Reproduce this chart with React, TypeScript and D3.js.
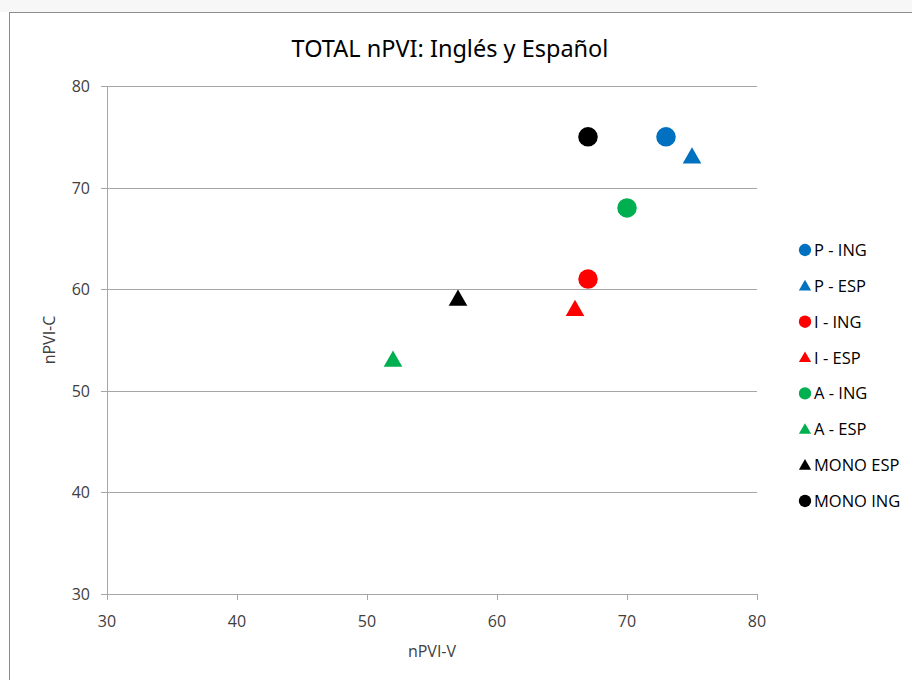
import React from "react";
import * as d3 from "d3";

const seriesNames = ["P - ING", "P - ESP", "I - ING", "I - ESP", "A - ING", "A - ESP", "MONO ESP", "MONO ING"];
const seriesX = [73, 75, 67, 66, 70, 52, 57, 67];
const seriesY = [75, 73, 61, 58, 68, 53, 59, 75];
const seriesShape = ["circle", "triangle", "circle", "triangle", "circle", "triangle", "triangle", "circle"];
const seriesColor = ["#0070c0", "#0070c0", "#ff0000", "#ff0000", "#00b050", "#00b050", "#000000", "#000000"];
const xTicks = [30, 40, 50, 60, 70, 80];
const yTicks = [30, 40, 50, 60, 70, 80];

const W = 912;
const H = 680;
const FONT = "'Open Sans', 'Noto Sans', sans-serif";

export default function App() {
  const x = d3.scaleLinear().domain([30, 80]).range([107, 757]);
  const y = d3.scaleLinear().domain([30, 80]).range([594, 86]);
  const circle = d3.symbol().type(d3.symbolCircle);
  const tri = d3.symbol().type(d3.symbolTriangle);
  const markerPath = (shape: string, big: boolean) =>
    shape === "circle" ? circle.size(big ? 300 : 120)() : tri.size(big ? 150 : 65)();

  return (
    <svg
      width={W}
      height={H}
      style={{ position: "absolute", left: 0, top: 0, background: "#fff" }}
    >
      <rect x={0} y={0} width={W} height={12} fill="#f7f7f7" />
      <rect x={9.5} y={12.5} width={W + 20} height={H + 20} fill="#fff" stroke="#8c8c8c" strokeWidth={1} />
      <text x={450} y={57} textAnchor="middle" fontFamily="'Liberation Sans Narrow', 'Noto Sans', sans-serif" fontSize={23.5} fill="#000">
        TOTAL nPVI: Inglés y Español
      </text>
      {yTicks.map((t) => (
        <g key={"y" + t}>
          {t > 30 && <line x1={107} x2={757} y1={Math.round(y(t)) + 0.5} y2={Math.round(y(t)) + 0.5} stroke="#a6a6a6" />}
          <line x1={101} x2={107} y1={Math.round(y(t)) + 0.5} y2={Math.round(y(t)) + 0.5} stroke="#a6a6a6" />
          <text x={90} y={y(t) + 6} textAnchor="end" fontFamily={FONT} fontSize={16} fill="#404040">
            {t}
          </text>
        </g>
      ))}
      <line x1={107.5} x2={107.5} y1={86} y2={594} stroke="#a6a6a6" />
      <line x1={107} x2={757} y1={594.5} y2={594.5} stroke="#a6a6a6" />
      {xTicks.map((t) => (
        <g key={"x" + t}>
          <line x1={Math.round(x(t)) + 0.5} x2={Math.round(x(t)) + 0.5} y1={594} y2={600} stroke="#a6a6a6" />
          <text x={x(t)} y={627} textAnchor="middle" fontFamily={FONT} fontSize={16} fill="#404040">
            {t}
          </text>
        </g>
      ))}
      <text x={432} y={657} textAnchor="middle" fontFamily={FONT} fontSize={16} fill="#404040">
        nPVI-V
      </text>
      <text
        transform={`translate(55,340) rotate(-90)`}
        textAnchor="middle"
        fontFamily={FONT}
        fontSize={16}
        fill="#404040"
      >
        nPVI-C
      </text>
      {seriesNames.map((n, i) => (
        <path
          key={"p" + n}
          d={markerPath(seriesShape[i], true) || ""}
          transform={`translate(${x(seriesX[i])},${y(seriesY[i]) + (seriesShape[i] === "triangle" ? 1 : 0)})`}
          fill={seriesColor[i]}
        />
      ))}
      {seriesNames.map((n, i) => {
        const ly = 250 + i * 35.85;
        return (
          <g key={"l" + n}>
            <path
              d={markerPath(seriesShape[i], false) || ""}
              transform={`translate(805,${ly + (seriesShape[i] === "triangle" ? 1 : 0)})`}
              fill={seriesColor[i]}
            />
            <text x={814} y={ly + 6} fontFamily={FONT} fontSize={16.5} fill="#000">
              {n}
            </text>
          </g>
        );
      })}
    </svg>
  );
}
